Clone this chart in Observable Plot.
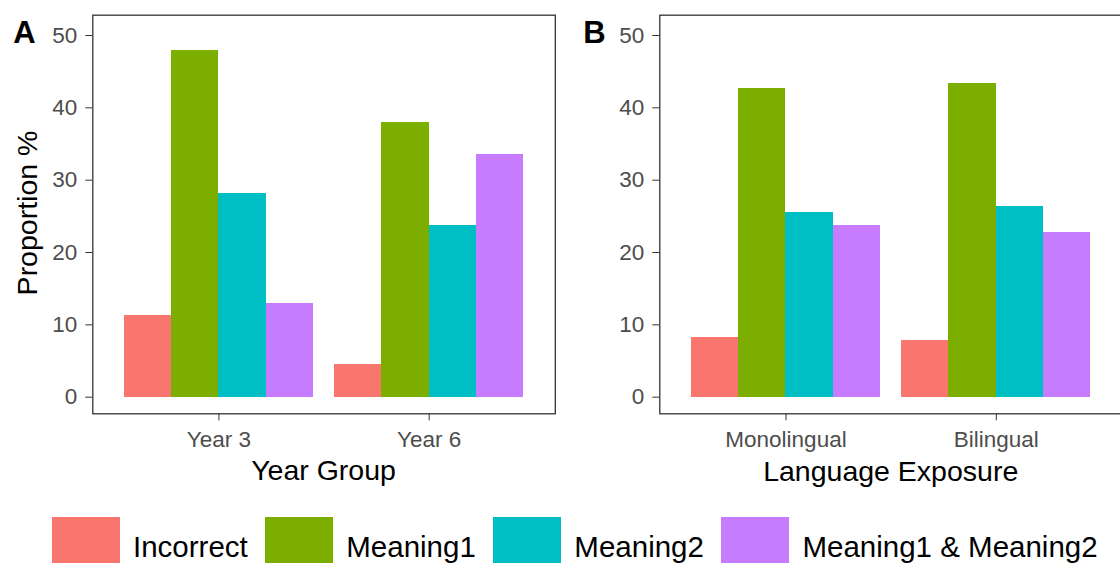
<!DOCTYPE html>
<html>
<head>
<meta charset="utf-8">
<script src="https://cdn.jsdelivr.net/npm/d3@7"></script>
<script src="https://cdn.jsdelivr.net/npm/@observablehq/plot@0.6"></script>
<style>
  html, body { margin: 0; padding: 0; background: #fff; }
  #fig { position: relative; width: 1120px; height: 563px; overflow: hidden; background: #fff; }
  #pA, #pB, #leg, #over { position: absolute; }
  #pA { left: 0; top: 0; width: 560px; }
  #pB { left: 560px; top: 0; width: 565px; }
  #leg { left: 51.5px; top: 516.5px; }
  #over { left: 0; top: 0; pointer-events: none; }
  .panel svg { max-width: none !important; }
  .panel text { fill: #4d4d4d; }
  .lg-swatches { display: flex !important; flex-wrap: nowrap !important; align-items: center !important; margin: 0 !important; min-height: 0 !important; white-space: nowrap; }
  .lg-swatch { margin: 0 17px 0 0 !important; display: inline-flex !important; align-items: center !important; }
  .lg-swatch > svg { margin-right: 13.5px !important; }
</style>
</head>
<body>
<div id="fig">
  <div id="pA" class="panel"></div>
  <div id="pB" class="panel"></div>
  <div id="leg"></div>
  <svg id="over" width="1120" height="563"></svg>
</div>
<script>
// ---- data ----
const series = ["Incorrect", "Meaning1", "Meaning2", "Meaning1 & Meaning2"];
const colors = ["#F8766D", "#7CAE00", "#00BFC4", "#C77CFF"];
const yearGroups = ["Year 3", "Year 6"];
const year3 = [11.3, 47.9, 28.2, 12.9];
const year6 = [4.5, 38.0, 23.8, 33.6];
const exposureGroups = ["Monolingual", "Bilingual"];
const mono = [8.2, 42.7, 25.6, 23.8];
const bi = [7.9, 43.3, 26.4, 22.7];
const yTicks = [0, 10, 20, 30, 40, 50];

const FONT = "'Liberation Sans', Arial, Helvetica, sans-serif";
const DODGE = 0.9; // ggplot geom_bar default width, dodged across the series

// discrete positions 1..n as ggplot uses them, bars dodged within each group
function rows(groups, valueLists) {
  const out = [];
  const w = DODGE / series.length;
  groups.forEach((g, gi) => series.forEach((s, si) => {
    const start = gi + 1 - DODGE / 2 + si * w;
    out.push({group: g, series: s, value: valueLists[gi][si], x1: start, x2: start + w});
  }));
  return out;
}
const dataA = rows(yearGroups, [year3, year6]);
const dataB = rows(exposureGroups, [mono, bi]);

function panel(data, groups, width, marginLeft, marginRight) {
  const pos = groups.map((g, i) => i + 1);
  return Plot.plot({
    width, height: 500,
    marginLeft, marginRight, marginTop: 14.7, marginBottom: 86.7,
    style: {fontFamily: FONT, fontSize: "22.5px", color: "#333333", background: "transparent", overflow: "visible"},
    x: {domain: [0.4, groups.length + 0.6], ticks: pos, tickFormat: i => groups[Math.round(i) - 1], tickSize: 7, tickPadding: 10, label: null, axis: "bottom"},
    y: {domain: [0, 50], range: [396.7, 35], ticks: yTicks, tickSize: 7, tickPadding: 8.5, label: null, axis: "left"},
    color: {domain: series, range: colors},
    marks: [
      Plot.rect(data, {x1: "x1", x2: "x2", y1: 0, y2: "value", fill: "series", shapeRendering: "crispEdges"}),
      Plot.frame({stroke: "#333333", strokeWidth: 1.3})
    ]
  });
}

document.getElementById("pA").append(panel(dataA, yearGroups, 560, 92.3, 5.2));
document.getElementById("pB").append(panel(dataB, exposureGroups, 565, 99.3, 3));

const leg = Plot.legend({
  color: {domain: series, range: colors},
  swatchWidth: 68, swatchHeight: 60,
  className: "lg",
  style: {fontFamily: FONT, fontSize: "29.5px", color: "#000000"}
});
document.getElementById("leg").append(leg);

// ---- titles and panel tags ----
const over = d3.select("#over").style("font-family", FONT);
over.append("text").attr("x", 13.3).attr("y", 43.3).attr("font-size", 31).attr("font-weight", "bold").attr("fill", "#000").text("A");
over.append("text").attr("x", 583.2).attr("y", 43.3).attr("font-size", 31).attr("font-weight", "bold").attr("fill", "#000").text("B");
over.append("text").attr("x", 323.5).attr("y", 480).attr("text-anchor", "middle").attr("font-size", 28.5).attr("fill", "#000").text("Year Group");
over.append("text").attr("x", 890.7).attr("y", 481).attr("text-anchor", "middle").attr("font-size", 28.5).attr("fill", "#000").text("Language Exposure");
over.append("text").attr("transform", "translate(37,213) rotate(-90)").attr("text-anchor", "middle").attr("font-size", 28.5).attr("fill", "#000").text("Proportion %");
</script>
</body>
</html>
